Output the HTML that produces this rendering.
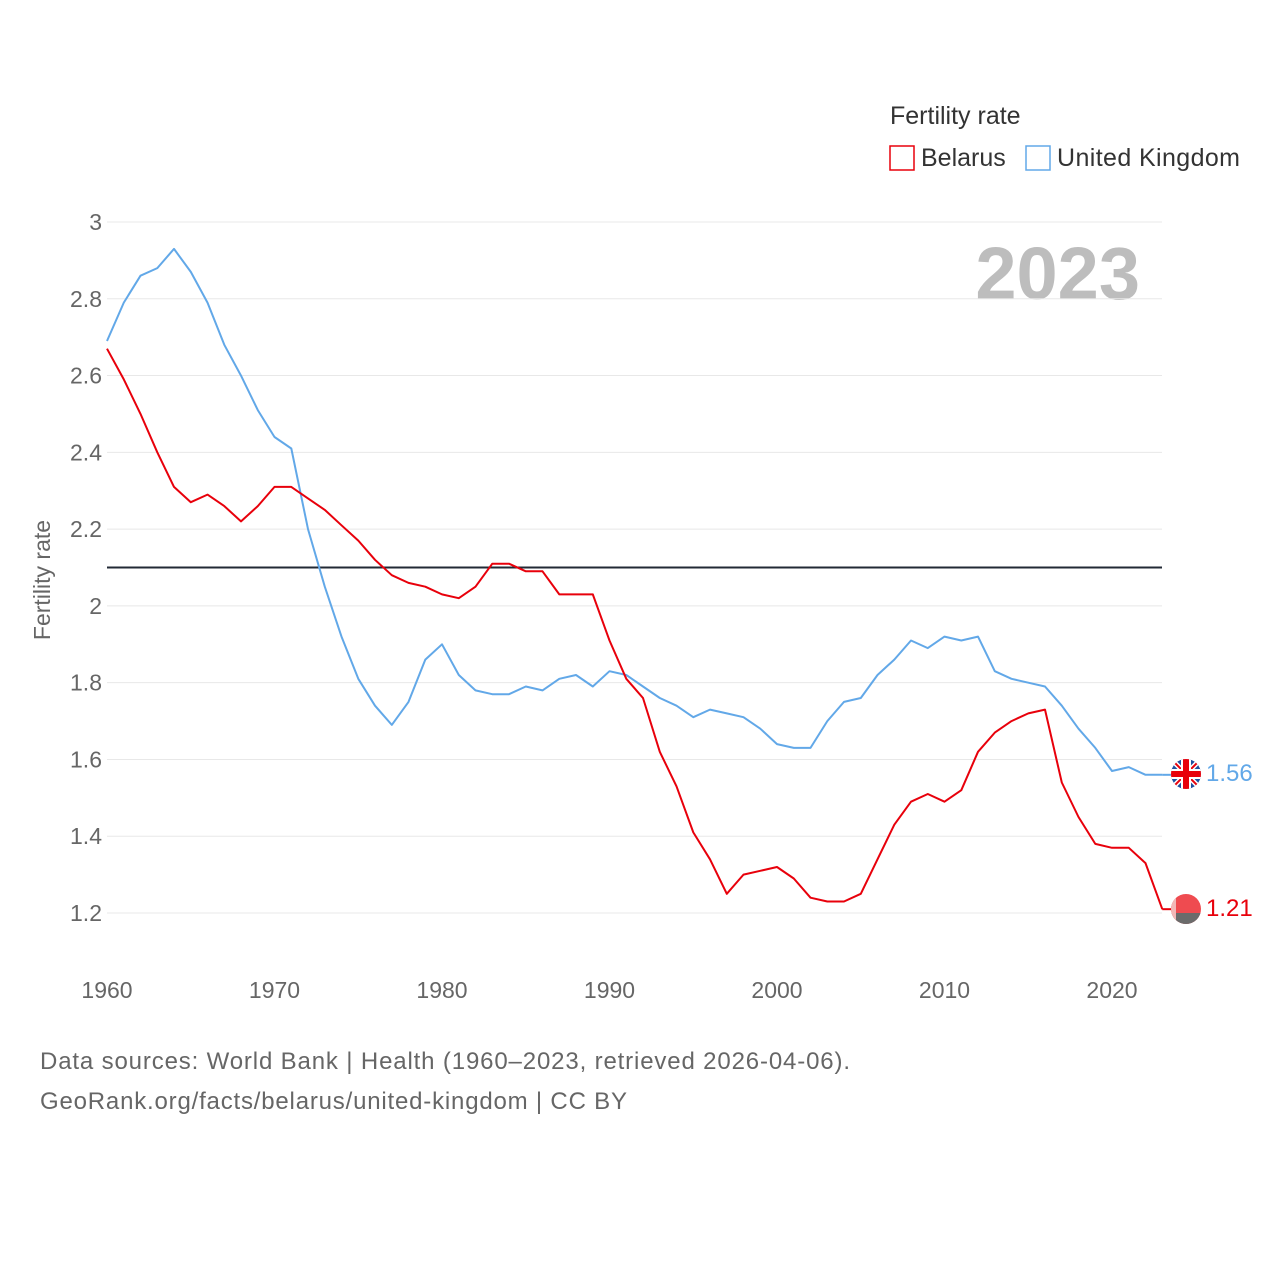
<!DOCTYPE html>
<html><head><meta charset="utf-8"><style>
body{margin:0;background:#fff;font-family:"Liberation Sans",sans-serif;}
</style></head><body>
<svg id="chart" width="1280" height="1280" xmlns="http://www.w3.org/2000/svg" style="display:block">
<rect width="1280" height="1280" fill="#fff"/>
<text x="890" y="124" font-size="25" fill="#333">Fertility rate</text>
<g><rect x="890" y="146" width="24" height="24" fill="none" stroke="#e8000b" stroke-width="1.5"/><text x="921" y="166" font-size="25" fill="#333">Belarus</text></g>
<g><rect x="1026" y="146" width="24" height="24" fill="none" stroke="#62a8e8" stroke-width="1.5"/><text x="1057" y="166" font-size="25" fill="#333" textLength="183">United Kingdom</text></g>
<text x="1140" y="299" text-anchor="end" font-size="74" font-weight="bold" fill="#bdbdbd">2023</text>
<g id="grid"></g><g id="yticks"></g><g id="xticks"></g><g id="lines"></g>
<text transform="translate(50,580) rotate(-90)" text-anchor="middle" font-size="23" fill="#666">Fertility rate</text>
<g>
<clipPath id="cu"><circle cx="1186" cy="774" r="15"/></clipPath>
<g clip-path="url(#cu)"><rect x="1170" y="758" width="32" height="32" fill="#1e50a0"/>
<line x1="1170" y1="758" x2="1202" y2="790" stroke="#fff" stroke-width="5"/><line x1="1202" y1="758" x2="1170" y2="790" stroke="#fff" stroke-width="5"/>
<line x1="1170" y1="758" x2="1202" y2="790" stroke="#e8000b" stroke-width="2"/><line x1="1202" y1="758" x2="1170" y2="790" stroke="#e8000b" stroke-width="2"/>
<rect x="1170" y="769" width="32" height="10" fill="#fff"/><rect x="1181" y="758" width="10" height="32" fill="#fff"/>
<rect x="1170" y="771" width="32" height="6" fill="#e8000b"/><rect x="1183" y="758" width="6" height="32" fill="#e8000b"/></g></g>
<text x="1206" y="781" font-size="24" fill="#62a8e8">1.56</text>
<g>
<clipPath id="cb"><circle cx="1186" cy="909" r="15"/></clipPath>
<g clip-path="url(#cb)"><rect x="1170" y="893" width="32" height="32" fill="#ef4b50"/><rect x="1170" y="913" width="32" height="12" fill="#6b6b6b"/><rect x="1171" y="893" width="5" height="32" fill="#f2b7b7"/></g></g>
<text x="1206" y="916" font-size="24" fill="#e8000b">1.21</text>
<text x="40" y="1069" font-size="24" fill="#666" textLength="810">Data sources: World Bank | Health (1960–2023, retrieved 2026-04-06).</text>
<text x="40" y="1109" font-size="24" fill="#666" textLength="587">GeoRank.org/facts/belarus/united-kingdom | CC BY</text>
</svg>
<script>
const years=[];for(let y=1960;y<=2023;y++)years.push(y);
const ukValues=[2.69,2.79,2.86,2.88,2.93,2.87,2.79,2.68,2.60,2.51,2.44,2.41,2.20,2.05,1.92,1.81,1.74,1.69,1.75,1.86,1.90,1.82,1.78,1.77,1.77,1.79,1.78,1.81,1.82,1.79,1.83,1.82,1.79,1.76,1.74,1.71,1.73,1.72,1.71,1.68,1.64,1.63,1.63,1.70,1.75,1.76,1.82,1.86,1.91,1.89,1.92,1.91,1.92,1.83,1.81,1.80,1.79,1.74,1.68,1.63,1.57,1.58,1.56,1.56];
const byValues=[2.67,2.59,2.50,2.40,2.31,2.27,2.29,2.26,2.22,2.26,2.31,2.31,2.28,2.25,2.21,2.17,2.12,2.08,2.06,2.05,2.03,2.02,2.05,2.11,2.11,2.09,2.09,2.03,2.03,2.03,1.91,1.81,1.76,1.62,1.53,1.41,1.34,1.25,1.30,1.31,1.32,1.29,1.24,1.23,1.23,1.25,1.34,1.43,1.49,1.51,1.49,1.52,1.62,1.67,1.70,1.72,1.73,1.54,1.45,1.38,1.37,1.37,1.33,1.21];
const yTicks=[1.2,1.4,1.6,1.8,2,2.2,2.4,2.6,2.8,3];
const xTicks=[1960,1970,1980,1990,2000,2010,2020];
const refValue=2.1;
const X=v=>107+(v-1960)*16.75;
const Y=v=>222+(3-v)*383.9;
const NS='http://www.w3.org/2000/svg';
function mk(tag,attrs,parent){const e=document.createElementNS(NS,tag);for(const k in attrs)e.setAttribute(k,attrs[k]);document.getElementById(parent).appendChild(e);return e;}
yTicks.forEach(t=>{
 const l=mk('line',{x1:107,x2:1162,y1:Y(t),y2:Y(t),stroke:'#e8e8e8','stroke-width':1},'grid');
 
 
 const tx=mk('text',{x:102,y:Y(t)+8,'text-anchor':'end','font-size':23,fill:'#666'},'yticks');
 tx.textContent=String(t);
 
 
});
xTicks.forEach(t=>{
 const tx=mk('text',{x:X(t),y:998,'text-anchor':'middle','font-size':23,fill:'#666'},'xticks');
 tx.textContent=String(t);
 
 
});
const ref=mk('line',{x1:107,x2:1162,y1:Y(refValue),y2:Y(refValue),stroke:'#222a35','stroke-width':2},'lines');


function path(vals,color,name){
 const d=vals.map((v,i)=>(i?'L':'M')+X(years[i]).toFixed(1)+','+Y(v).toFixed(1)).join(' ');
 const p=mk('path',{d:d,fill:'none',stroke:color,'stroke-width':2,'stroke-linejoin':'round'},'lines');
 
 
}
path(ukValues,'#62a8e8','uk-line');
path(byValues,'#e8000b','belarus-line');
const lu=mk('line',{x1:X(2023),x2:1172,y1:Y(ukValues[63]),y2:Y(ukValues[63]),stroke:'#62a8e8','stroke-width':2},'lines');


const lb=mk('line',{x1:X(2023),x2:1172,y1:Y(byValues[63]),y2:Y(byValues[63]),stroke:'#e8000b','stroke-width':2},'lines');


</script>
</body></html>
